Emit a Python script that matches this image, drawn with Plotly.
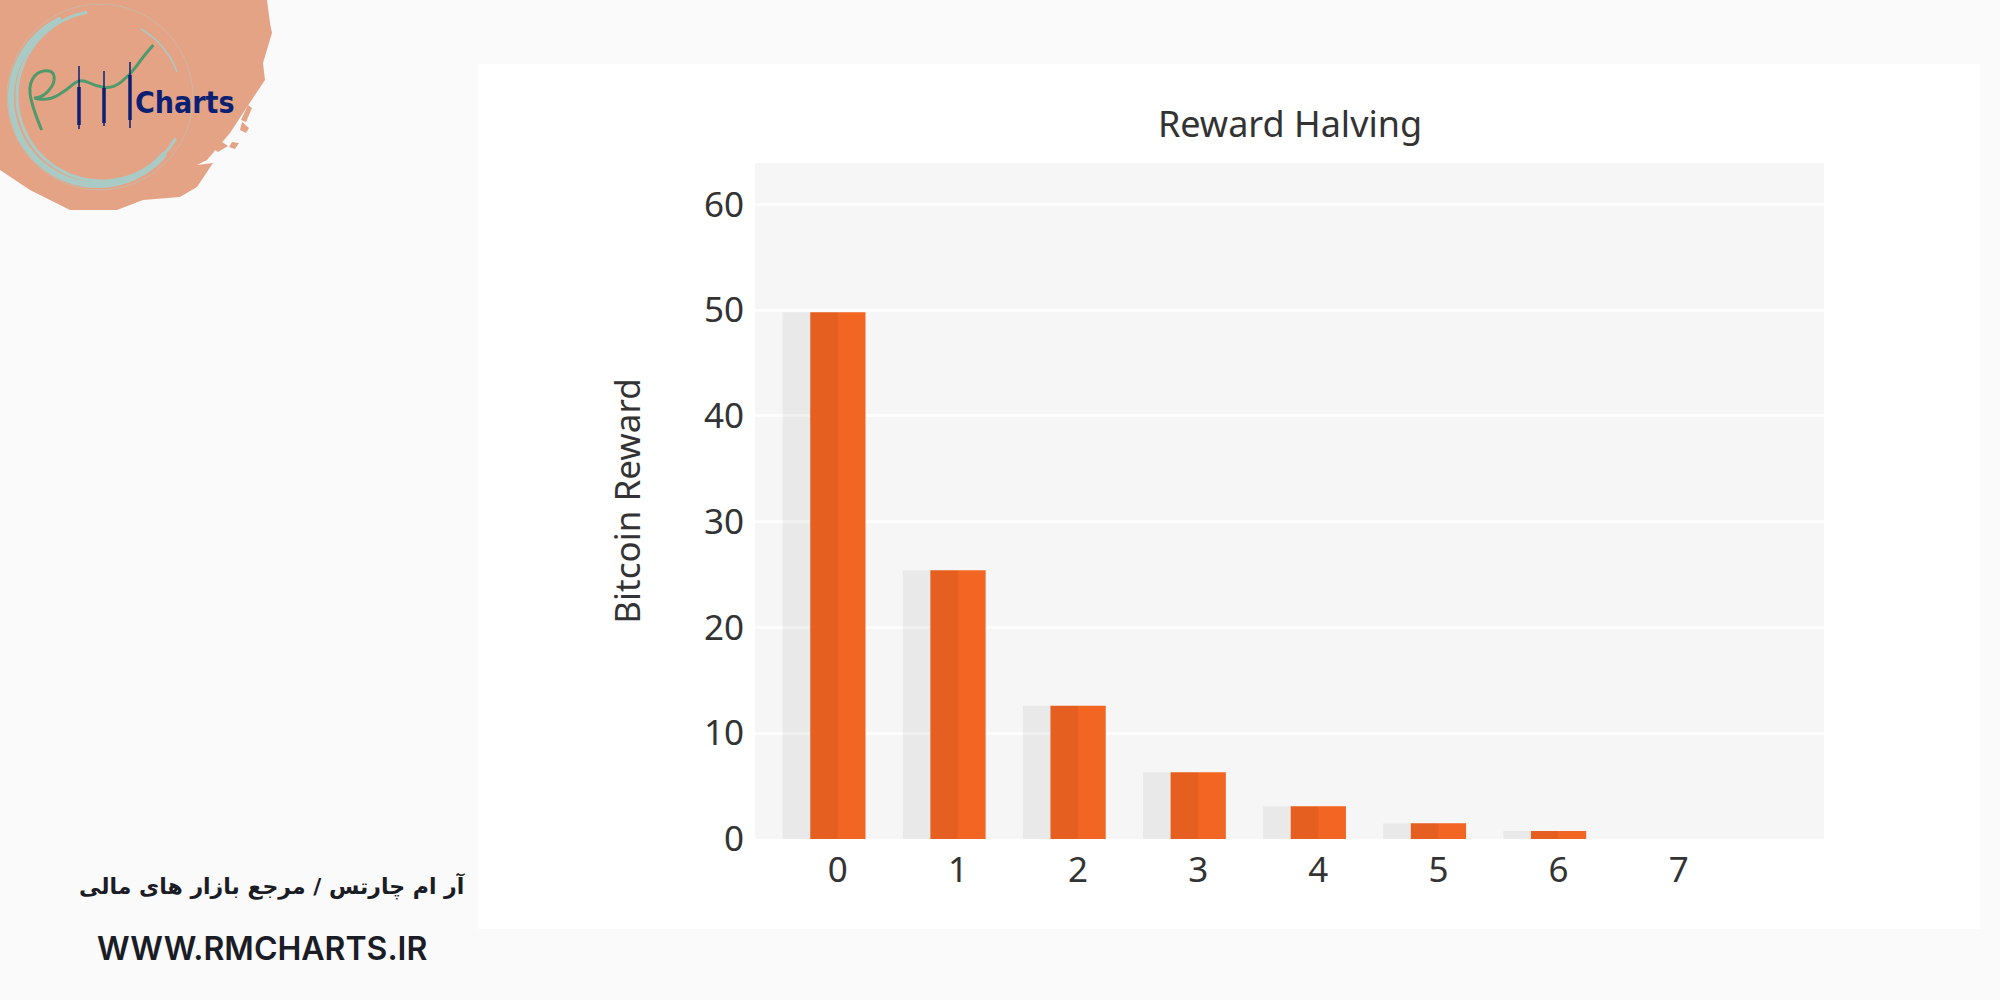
import math
import plotly.graph_objects as go

W = 2000
H = 1000

halvings = [0, 1, 2, 3, 4, 5, 6, 7]
reward = [49.8, 25.4, 12.6, 6.3, 3.1, 1.5, 0.75, 0]
y_ticks = [0, 10, 20, 30, 40, 50, 60]

ORANGE = "#f26522"
SALMON = "#e5a386"
TEAL = "#a9cbc6"
NAVY = "#0b1f73"
GREEN = "#4f9a6a"
TEXT = "#333333"


# logo and panel are drawn in page pixels, paper refs want fractions
def fx(x):
    return x / W


def fy(y):
    return 1 - y / H


def poly(pts, color):
    d = "M" + " L".join(f"{fx(x):.5f},{fy(y):.5f}" for x, y in pts) + " Z"
    return dict(type="path", xref="paper", yref="paper", path=d,
                fillcolor=color, line=dict(width=0), layer="above")


def curve(pts, color, width):
    d = f"M{fx(pts[0][0]):.5f},{fy(pts[0][1]):.5f}"
    for i in range(1, len(pts) - 1):
        mx = (pts[i][0] + pts[i + 1][0]) / 2
        my = (pts[i][1] + pts[i + 1][1]) / 2
        d += f" Q{fx(pts[i][0]):.5f},{fy(pts[i][1]):.5f} {fx(mx):.5f},{fy(my):.5f}"
    d += f" L{fx(pts[-1][0]):.5f},{fy(pts[-1][1]):.5f}"
    return dict(type="path", xref="paper", yref="paper", path=d,
                line=dict(color=color, width=width), layer="above")


def arc(cx, cy, r, a0, a1, color, width):
    n = 60
    pts = []
    for i in range(n + 1):
        a = math.radians(a0 + (a1 - a0) * i / n)
        pts.append((cx + r * math.cos(a), cy - r * math.sin(a)))
    return curve(pts, color, width)


def line(x0, y0, x1, y1, color, width):
    return dict(type="line", xref="paper", yref="paper",
                x0=fx(x0), y0=fy(y0), x1=fx(x1), y1=fy(y1),
                line=dict(color=color, width=width), layer="above")


def rect(x0, y0, x1, y1, color):
    return dict(type="rect", xref="paper", yref="paper", x0=fx(x0), x1=fx(x1),
                y0=fy(y0), y1=fy(y1), fillcolor=color, line=dict(width=0), layer="below")


shapes = []

# white panel behind the chart, plot_bgcolor would end up under it so fill the plot area here too
shapes.append(rect(478, 64, 1980, 929, "white"))
shapes.append(rect(755, 163, 1824, 839, "#f6f6f6"))

# salmon blob
shapes.append(poly([(0, 0), (267, 0), (270, 23), (272, 33), (263, 63), (265, 80), (247, 107),
                    (230, 133), (207, 160), (197, 165), (213, 163), (197, 187), (180, 197),
                    (143, 200), (117, 210), (70, 210), (30, 190), (0, 170)], SALMON))
shapes.append(poly([(248, 105), (252, 108), (246, 122), (241, 120)], SALMON))
shapes.append(poly([(242, 122), (249, 128), (246, 133), (240, 130)], SALMON))
shapes.append(poly([(232, 142), (239, 143), (235, 149), (229, 147)], SALMON))
shapes.append(poly([(222, 142), (228, 146), (218, 152), (214, 149)], SALMON))

# rings
shapes.append(arc(100, 97, 93, 0, 360, "#c9b9a6", 1))
shapes.append(arc(98, 98, 87, 115, 320, TEAL, 6))
shapes.append(arc(102, 96, 85, 100, 330, TEAL, 3))
shapes.append(arc(100, 100, 82, 60, 20, TEAL, 1.5))

# green swoosh
swoosh_x = [125, 100, 85, 110, 160, 165, 130, 95, 150, 200, 240, 290, 340, 390, 430, 460]
swoosh_y = [390, 330, 260, 215, 210, 250, 290, 295, 300, 270, 235, 260, 265, 225, 170, 135]
shapes.append(curve([(x / 3, y / 3) for x, y in zip(swoosh_x, swoosh_y)], GREEN, 3))

# candles
for cx, top, b0, b1, bottom in [(79, 66, 87, 125, 129), (104, 71, 88, 123, 126), (130, 62, 75, 120, 128)]:
    shapes.append(line(cx, top, cx, bottom, NAVY, 1.5))
    shapes.append(line(cx, b0, cx, b1, NAVY, 3.5))

fig = go.Figure()
fig.add_bar(x=halvings, y=reward, width=0.46, offset=-0.23,
            marker=dict(color=ORANGE, line=dict(width=0)))
# grey shadow bar overlaps the left half of the orange one
fig.add_bar(x=halvings, y=reward, width=0.46, offset=-0.46,
            marker=dict(color="rgba(0,0,0,0.05)", line=dict(width=0)))

fig.update_layout(
    width=W, height=H,
    autosize=False,
    margin=dict(l=0, r=0, t=0, b=0, autoexpand=False),
    paper_bgcolor="#fafafa",
    plot_bgcolor="rgba(0,0,0,0)",
    barmode="overlay",
    showlegend=False,
    font=dict(family="Noto Sans", color=TEXT, size=35),
    title=dict(text="Reward Halving", x=0.645, y=0.876, xanchor="center", yanchor="middle",
               font=dict(size=36, color=TEXT)),
    shapes=shapes,
    xaxis=dict(domain=[755 / W, 1824 / W], range=[-0.69, 8.21], tickmode="array",
               tickvals=halvings, showgrid=False, zeroline=False, showline=False,
               ticks="outside", ticklen=0, tickcolor="rgba(0,0,0,0)",
               tickfont=dict(size=35, color=TEXT)),
    yaxis=dict(domain=[1 - 839 / H, 1 - 163 / H], range=[0, 63.9], tickmode="array",
               tickvals=y_ticks, showgrid=True, gridcolor="rgba(255,255,255,0.8)", gridwidth=3,
               zeroline=False, showline=False,
               ticks="outside", ticklen=3, tickcolor="rgba(0,0,0,0)",
               tickfont=dict(size=35, color=TEXT),
               title=dict(text="Bitcoin Reward", standoff=52, font=dict(size=35, color=TEXT))),
    annotations=[
        dict(text="<b>Charts</b>", xref="paper", yref="paper", x=fx(185), y=fy(103),
             xanchor="center", yanchor="middle", showarrow=False,
             font=dict(family="DejaVu Sans Condensed, Liberation Sans", size=30, color=NAVY)),
        dict(text="<b>آر ام چارتس / مرجع بازار های مالی</b>", xref="paper", yref="paper",
             x=fx(272), y=fy(886), xanchor="center", yanchor="middle", showarrow=False,
             font=dict(family="DejaVu Sans", size=22, color="#1a1c26")),
        dict(text="WWW.RMCHARTS.IR", xref="paper", yref="paper", x=fx(262), y=fy(948),
             xanchor="center", yanchor="middle", showarrow=False,
             font=dict(family="Inter", size=32, color="#1a1c26", weight=600)),
    ],
)

fig.write_html("out.html", config=dict(displayModeBar=False),
               post_script="document.body.style.margin='0';")
